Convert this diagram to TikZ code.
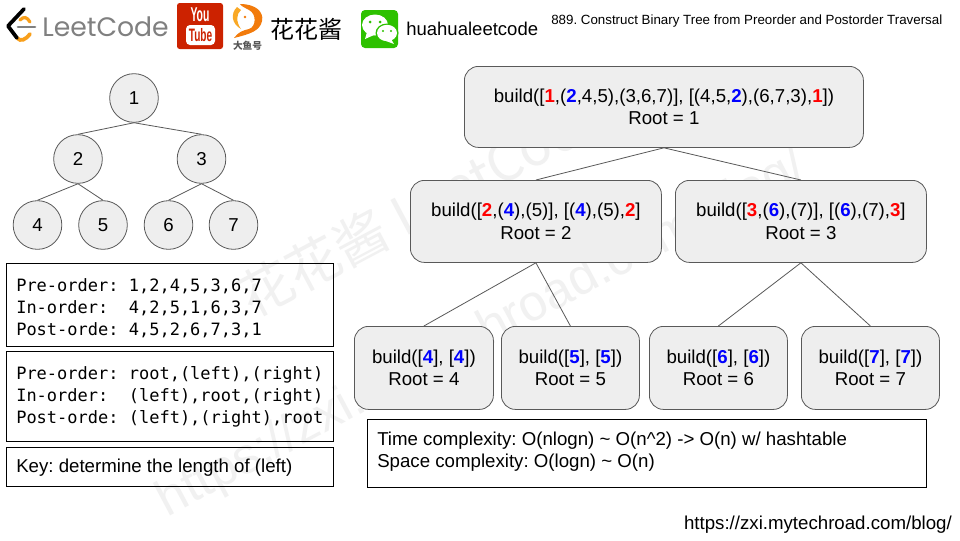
\documentclass[tikz,border=0pt]{standalone}
\usepackage{fontspec}
\setmainfont{Liberation Sans}
\newfontfamily\monof{DejaVu Sans Mono}
\newfontfamily\cjkf{Noto Sans CJK SC}
\newfontfamily\lcf{Poppins}
\AtBeginDocument{\frenchspacing}
\definecolor{nodefill}{HTML}{EEEEEE}
\definecolor{nodeline}{HTML}{595959}
\definecolor{lcgray}{HTML}{808080}
\definecolor{lcorange}{HTML}{F89F1B}
\definecolor{ytred}{HTML}{CC2200}
\definecolor{wcgreen}{HTML}{2DC100}
\definecolor{wmark}{HTML}{F1F1F1}
\definecolor{dyorange}{HTML}{F27B0C}
\definecolor{dyyellow}{HTML}{F9A825}
\definecolor{dygray}{HTML}{555555}
\newcommand{\rr}[1]{\textcolor{red}{\textbf{#1}}}
\newcommand{\bb}[1]{\textcolor{blue}{\textbf{#1}}}
\tikzset{
  x=0.75pt,y=-0.75pt,
  circ/.style={circle,draw=nodeline,fill=nodefill,line width=0.6pt,minimum size=36.5pt,inner sep=0pt,font=\fontsize{14}{16}\selectfont},
  rbox/.style={rectangle,rounded corners=10.5pt,draw=nodeline,fill=nodefill,line width=0.6pt,inner sep=0pt},
  rtext/.style={inner sep=0pt,align=center,font=\fontsize{14}{16.8}\selectfont},
  tbox/.style={rectangle,draw=black,line width=0.75pt,inner sep=0pt},
  conn/.style={draw=nodeline,line width=0.6pt},
  monotext/.style={anchor=west,align=left,inner sep=0pt,font=\monof\fontsize{12.75}{16.5}\selectfont},
  sanstext/.style={anchor=west,align=left,inner sep=0pt,font=\fontsize{14}{16.6}\selectfont},
  wm/.style={text=wmark,inner sep=0pt,rotate=28}
}
\newcommand{\boxat}[6]{\node[#2,minimum width=#5*0.75pt-#3*0.75pt,minimum height=#6*0.75pt-#4*0.75pt,anchor=north west] (#1) at (#3,#4) {};}
\begin{document}
\begin{tikzpicture}
\useasboundingbox (0,0) rectangle (960,540);
\fill[white] (0,0) rectangle (960,540);
% watermark
\node[wm,font=\fontsize{40}{40}\selectfont] (wmA) at (423,205) {\cjkf 花花酱 LeetCode};
\node[wm,font=\fontsize{38}{38}\selectfont] (wmB) at (482,335) {https://zxi.mytechroad.com/blog/};

% header logos
\draw[line width=2.8pt,lcorange,line cap=round] (17,38) .. controls (21,42) and (25,40) .. (30,34);
\draw[line width=2.4pt,lcorange,line cap=round] (20,20) .. controls (24,16) and (27,17) .. (30,22);
\draw[line width=2.8pt,black,line cap=round,line join=round] (24,9) -- (8,26) -- (17,38);
\draw[line width=2pt,lcgray,line cap=round] (18,27) -- (35,27);
\node[anchor=west,inner sep=0pt,text=lcgray,font=\lcf\fontsize{20}{20}\selectfont] (lc) at (42,27) {LeetCode};
\fill[ytred,rounded corners=2pt] (177,3) rectangle (223,49);
\node[text=white,inner sep=0pt,font=\bfseries\fontsize{15}{15}\selectfont] (yt1) at (200,15) {\scalebox{.52}[1]{You}};
\fill[white,rounded corners=3pt] (186,25) rectangle (215,45);
\node[text=ytred,inner sep=0pt,font=\bfseries\fontsize{13.5}{14}\selectfont] (yt2) at (200.5,35) {\scalebox{.56}[1]{Tube}};
\fill[dyorange] (240,4) .. controls (256,4) and (264,12) .. (262,21) .. controls (260,31) and (250,34) .. (234,38) .. controls (238,32) and (244,30) .. (249,29) .. controls (256,27) and (257,14) .. (249,10) .. controls (246,8) and (242,7) .. (240,4) -- cycle;
\fill[dyyellow] (237,7) .. controls (230,14) and (232,24) .. (241,29) .. controls (236,22) and (236,14) .. (241,10) -- cycle;
\fill[dyorange] (245,17) circle (1.3);
\node[text=dygray,inner sep=0pt,font=\cjkf\bfseries\fontsize{7.25}{8}\selectfont] (dy) at (247.5,45.5) {大鱼号};
\node[anchor=west,inner sep=0pt,font=\cjkf\fontsize{18}{18}\selectfont] (hh) at (270,29.5) {花花酱};
\fill[wcgreen,rounded corners=3pt] (361,10) rectangle (398,48);
\fill[white] (375,25) ellipse (13 and 10.5);
\fill[white] (367,32) -- (365,39) -- (374,35) -- cycle;
\fill[wcgreen] (387,33) ellipse (11.5 and 9.5);
\fill[white] (387,33) ellipse (10 and 8.2);
\fill[white] (391,39) -- (394,44) -- (386,41) -- cycle;
\fill[wcgreen] (370,22) circle (1.5) (380,22) circle (1.5) (383,31) circle (1.2) (391,31) circle (1.2);
\node[anchor=west,inner sep=0pt,font=\fontsize{13.9}{16}\selectfont] (wc) at (406,29) {huahualeetcode};
\node[anchor=west,inner sep=0pt,font=\fontsize{10}{12}\selectfont] (title) at (551,21.5) {889. Construct Binary Tree from Preorder and Postorder Traversal};

% tree
\node[circ] (n1) at (134,98) {1};
\node[circ] (n2) at (78,159) {2};
\node[circ] (n3) at (201.5,159) {3};
\node[circ] (n4) at (37.5,225) {4};
\node[circ] (n5) at (103,225) {5};
\node[circ] (n6) at (168.5,225) {6};
\node[circ] (n7) at (233.5,225) {7};
\draw[conn] (n1.south) -- (n2.north);
\draw[conn] (n1.south) -- (n3.north);
\draw[conn] (n2.south) -- (n4.north);
\draw[conn] (n2.south) -- (n5.north);
\draw[conn] (n3.south) -- (n6.north);
\draw[conn] (n3.south) -- (n7.north);

% left text boxes
\boxat{ta}{tbox}{6}{263}{333}{346}
\node[monotext] (tat) at (16,308) {Pre-order: 1,2,4,5,3,6,7\\In-order:\ \ 4,2,5,1,6,3,7\\Post-orde: 4,5,2,6,7,3,1};
\boxat{tb}{tbox}{6}{351}{333}{441}
\node[monotext] (tbt) at (16,396.5) {Pre-order: root,(left),(right)\\In-order:\ \ (left),root,(right)\\Post-orde: (left),(right),root};
\boxat{tc}{tbox}{6}{447}{333}{486}
\node[sanstext] (tct) at (16,468) {Key: determine the length of (left)};

% recursion boxes
\boxat{r1}{rbox}{464}{66}{863}{147}
\node[rtext] (r1t) at (r1.center) {build([\rr{1},(\bb{2},4,5),(3,6,7)], [(4,5,\bb{2}),(6,7,3),\rr{1}])\\Root = 1};
\boxat{r2}{rbox}{410}{180}{661}{262}
\node[rtext] (r2t) at (r2.center) {build([\rr{2},(\bb{4}),(5)], [(\bb{4}),(5),\rr{2}]\\Root = 2};
\boxat{r3}{rbox}{675}{180}{926}{262}
\node[rtext] (r3t) at (r3.center) {build([\rr{3},(\bb{6}),(7)], [(\bb{6}),(7),\rr{3}]\\Root = 3};
\boxat{r4}{rbox}{354}{326}{493}{409}
\node[rtext] (r4t) at (r4.center) {build([\bb{4}], [\bb{4}])\\Root = 4};
\boxat{r5}{rbox}{501}{326}{639}{409}
\node[rtext] (r5t) at (r5.center) {build([\bb{5}], [\bb{5}])\\Root = 5};
\boxat{r6}{rbox}{649}{326}{787}{409}
\node[rtext] (r6t) at (r6.center) {build([\bb{6}], [\bb{6}])\\Root = 6};
\boxat{r7}{rbox}{801}{326}{939}{409}
\node[rtext] (r7t) at (r7.center) {build([\bb{7}], [\bb{7}])\\Root = 7};
\draw[conn] (r1.south) -- (r2.north);
\draw[conn] (r1.south) -- (r3.north);
\draw[conn] (r2.south) -- (r4.north);
\draw[conn] (r2.south) -- (r5.north);
\draw[conn] (r3.south) -- (r6.north);
\draw[conn] (r3.south) -- (r7.north);

% complexity box
\boxat{tm}{tbox}{367}{419}{926}{487}
\node[sanstext] (tmt) at (377,451.5) {Time complexity: O(nlogn) \textasciitilde{} O(n\textasciicircum{}2) -> O(n) w/ hashtable\\Space complexity: O(logn) \textasciitilde{} O(n)};
\node[anchor=east,inner sep=0pt,font=\fontsize{14}{16}\selectfont] (url) at (952,524.5) {https://zxi.mytechroad.com/blog/};
\end{tikzpicture}
\end{document}
